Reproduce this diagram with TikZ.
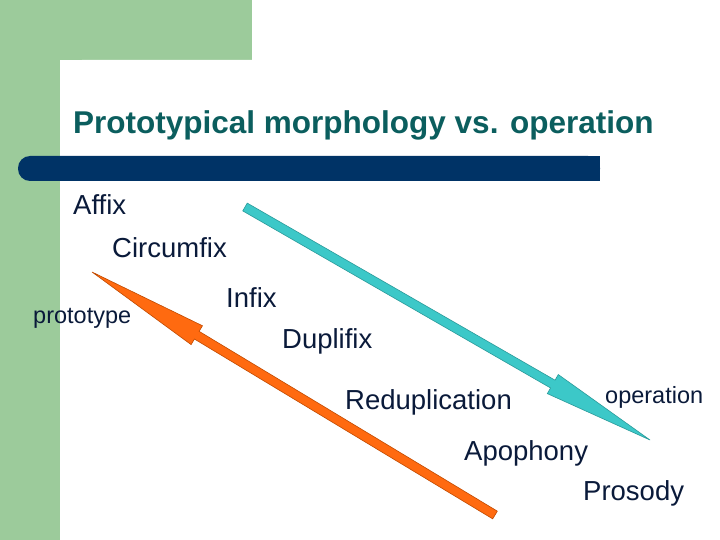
\documentclass[tikz,border=0pt]{standalone}
\usepackage{fontspec}
\setmainfont{Liberation Sans}
\usetikzlibrary{calc}
\definecolor{grn}{HTML}{9CCB9B}
\definecolor{bar}{HTML}{003366}
\definecolor{ttl}{HTML}{0B5E5E}
\definecolor{txt}{HTML}{0A1A3A}
\definecolor{cy}{HTML}{3CC8C8}
\definecolor{cyd}{HTML}{2A9A9A}
\definecolor{orn}{HTML}{FF6A10}
\definecolor{ornd}{HTML}{C04A00}
\newcommand{\fatarr}[5]{% tail, tip, frac, fill, draw
  \coordinate (B#1) at ($(#1)!#3!(#2)$);
  \filldraw[fill=#4,draw=#5,line width=0.6pt,line join=miter]
    ($(#1)!4.5pt!90:(#2)$) -- ($(B#1)!4.5pt!90:(#2)$) -- ($(B#1)!11pt!90:(#2)$) -- (#2)
    -- ($(B#1)!11pt!-90:(#2)$) -- ($(B#1)!4.5pt!-90:(#2)$) -- ($(#1)!4.5pt!-90:(#2)$) -- cycle;}
\begin{document}
\begin{tikzpicture}[x=1pt,y=-1pt,
  item/.style={anchor=west,inner sep=0pt,text=txt,font=\fontsize{27.5}{30}\selectfont},
  small/.style={anchor=west,inner sep=0pt,text=txt,font=\fontsize{23.5}{26}\selectfont}]
\useasboundingbox (0,0) rectangle (720,540);
\fill[white] (0,0) rectangle (720,540);
\fill[grn] (0,0) rectangle (252,60);
\fill[grn] (0,0) rectangle (60,540);
\fill[white] (60,540) -- (60,82) arc[start angle=180,end angle=270,radius=22] -- (720,60) -- (720,540) -- cycle;
\fill[bar,rounded corners=12pt] (18,156) rectangle (600,181);
\fill[bar] (100,156) rectangle (600,181);
\node[anchor=west,inner sep=0pt,text=ttl,font=\fontsize{31.5}{34}\selectfont\bfseries] (title) at (73,125) {Prototypical morphology vs. operation};
\node[item] (affix) at (73,205) {Affix};
\node[item] (circ) at (112,248) {Circumfix};
\node[small] (proto) at (33,318) {prototype};
\node[item] (infix) at (226,298) {Infix};
\node[item] (dupl) at (282,341) {Duplifix};
\node[item] (redup) at (345,402) {Reduplication};
\node[small] (oper) at (605,397) {operation};
\node[item] (apo) at (464,453) {Apophony};
\node[item] (pros) at (583,493) {Prosody};
\coordinate (ca) at (245,207);
\coordinate (ct) at (650,440);
\coordinate (oa) at (495,515);
\coordinate (ot) at (92,272);
\fatarr{ca}{ct}{0.76}{cy}{cyd}
\fatarr{oa}{ot}{0.74}{orn}{ornd}
\end{tikzpicture}
\end{document}
